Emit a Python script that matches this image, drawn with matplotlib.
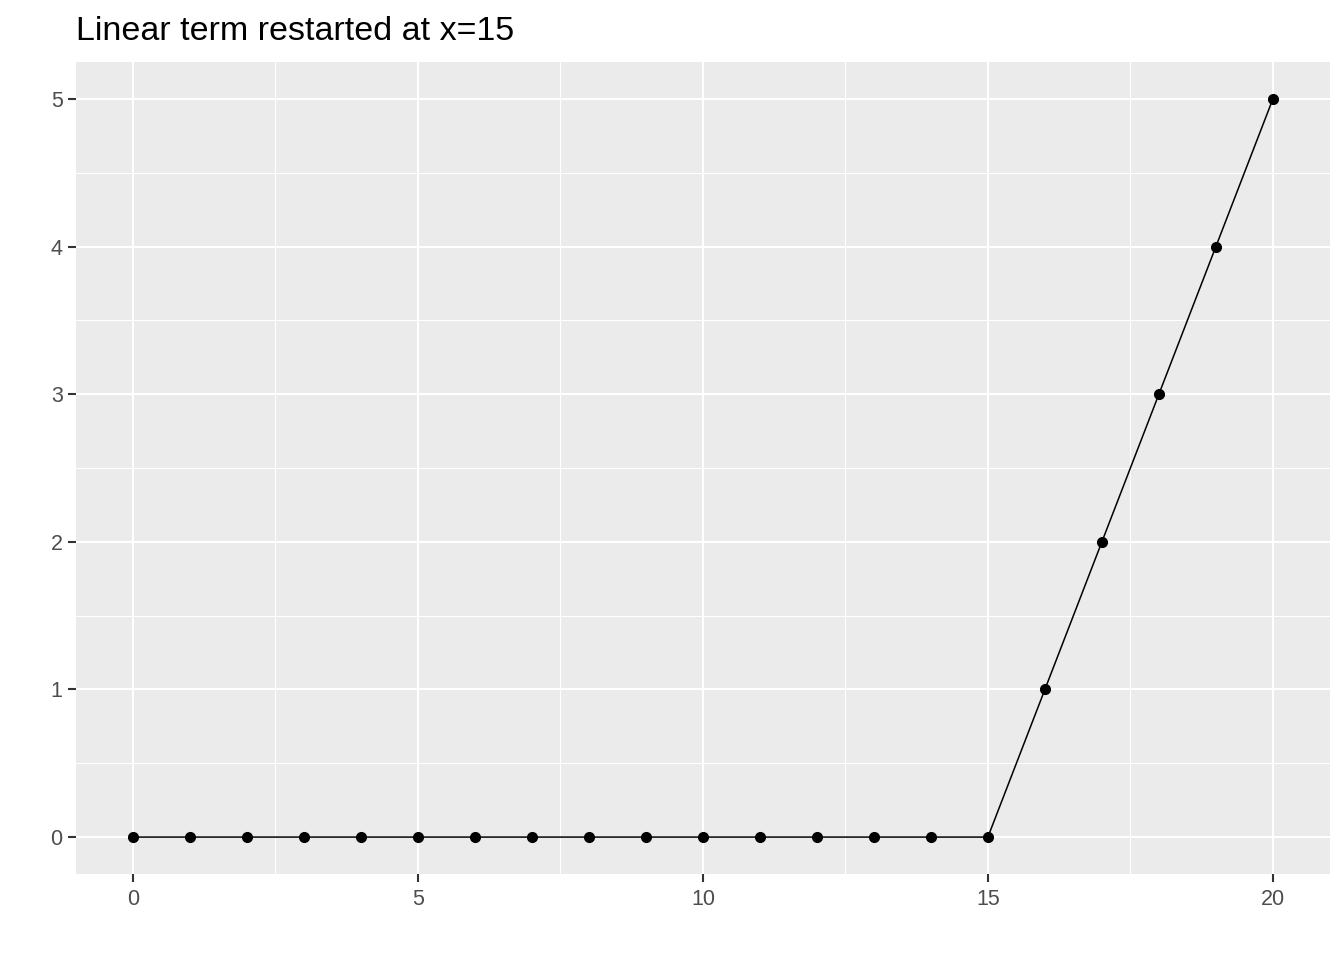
import matplotlib
matplotlib.use("Agg")
import matplotlib.pyplot as plt
from matplotlib.ticker import MultipleLocator

plt.rcParams['font.family'] = ['Liberation Sans', 'DejaVu Sans']

# data: linear term that restarts at x=15
x_vals = list(range(0, 21))
y_vals = [0] * 16 + [1, 2, 3, 4, 5]
title = "Linear term restarted at x=15"

fig = plt.figure(figsize=(13.44, 9.6), dpi=100)
ax = fig.add_axes([0.0565, 0.0896, 0.933, 0.8458])

ax.set_facecolor('#EBEBEB')
ax.plot(x_vals, y_vals, color='black', linewidth=1.1, zorder=3)
ax.plot(x_vals, y_vals, 'o', color='black', markersize=7, zorder=4)

ax.set_xlim(-1, 21)
ax.set_ylim(-0.25, 5.25)
ax.xaxis.set_major_locator(MultipleLocator(5))
ax.xaxis.set_minor_locator(MultipleLocator(2.5))
ax.yaxis.set_major_locator(MultipleLocator(1))
ax.yaxis.set_minor_locator(MultipleLocator(0.5))

ax.grid(which='major', color='white', linewidth=1.5)
ax.grid(which='minor', color='white', linewidth=0.75)
ax.set_axisbelow(True)

for s in ax.spines.values():
    s.set_visible(False)

ax.tick_params(which='major', length=5.5, width=1.5, color='#333333',
               labelcolor='#4D4D4D', labelsize=15.5)
ax.tick_params(axis='x', which='major', pad=5)
ax.tick_params(axis='y', which='major', pad=4)
ax.tick_params(which='minor', length=0)

fig.text(76 / 1344, 1 - 32 / 960, title, fontsize=24.5, color='black',
         ha='left', va='center')

fig.savefig("out.png", dpi=100)
